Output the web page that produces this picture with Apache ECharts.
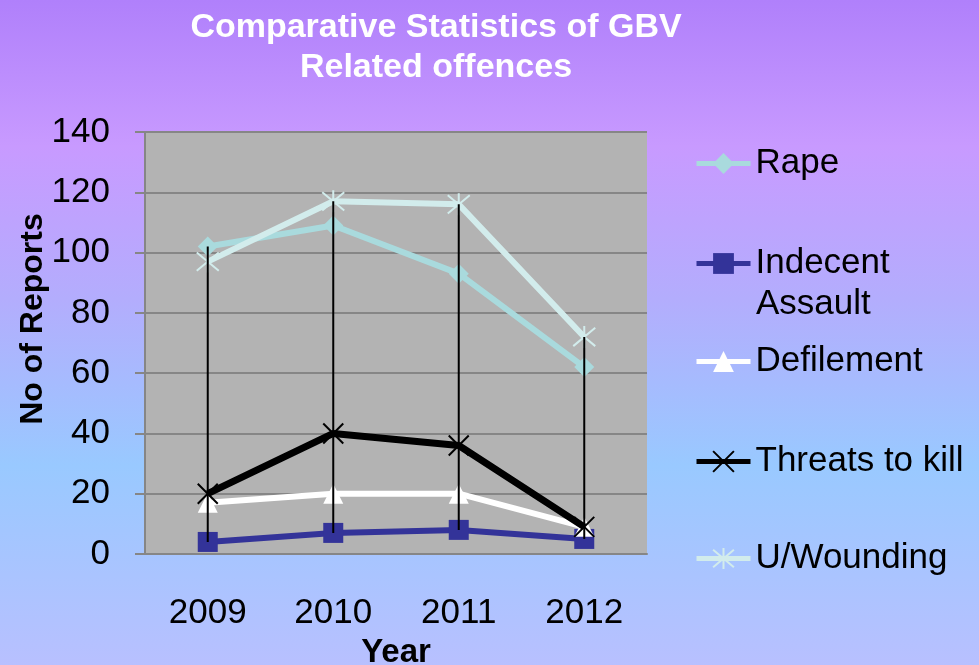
<!DOCTYPE html>
<html>
<head>
<meta charset="utf-8">
<script src="https://cdn.jsdelivr.net/npm/echarts@6/dist/echarts.min.js"></script>
<style>
  html, body { margin: 0; padding: 0; }
  #chart { width: 979px; height: 665px; }
</style>
</head>
<body>
<div id="chart"></div>
<script>
const years = ['2009', '2010', '2011', '2012'];
const rape = [102, 109, 93, 62];
const indecent = [4, 7, 8, 5];
const defilement = [17, 20, 20, 9];
const threats = [20, 40, 36, 9];
const wounding = [97, 117, 116, 72];
const yTicks = { min: 0, max: 140, interval: 20 };

const font = 'Arial, "Liberation Sans", sans-serif';
const allSeries = [rape, indecent, defilement, threats, wounding];

// high-low lines: from highest to lowest value per year
const hiLo = years.map((y, i) => {
  const vals = allSeries.map(s => s[i]);
  return [i, Math.min(...vals), Math.max(...vals)];
});

const xPath = 'path://M0,0L10,10M10,0L0,10';
const starPath = 'path://M0,0L10,10M10,0L0,10M5,-1L5,11';

function oneLegend(name, top) {
  return {
    data: [name],
    orient: 'vertical',
    left: 694,
    top: top,
    itemWidth: 54,
    itemHeight: 26,
    padding: 0,
    selectedMode: false,
    lineStyle: { width: 5 },
    formatter: n => n === 'Indecent Assault' ? 'Indecent' : n,
    textStyle: { fontFamily: font, fontSize: 35, color: '#000' }
  };
}

let myChart = echarts.init(document.getElementById('chart'));
let option = {
  animation: false,
  backgroundColor: {
    type: 'linear', x: 0, y: 0, x2: 0, y2: 1,
    colorStops: [
      { offset: 0, color: '#b080fb' },
      { offset: 0.22, color: '#c89aff' },
      { offset: 0.45, color: '#b3adfd' },
      { offset: 0.7, color: '#99c9ff' },
      { offset: 1, color: '#b8c0ff' }
    ]
  },
  graphic: [
    {
      type: 'text', x: 436, y: 8,
      style: {
        text: 'Comparative Statistics of GBV\nRelated offences',
        align: 'center', verticalAlign: 'top',
        font: 'bold 34px ' + font, fill: '#fff', lineHeight: 40
      }
    },
    {
      type: 'text', left: 756, top: 287,
      style: { text: 'Assault', font: '35px ' + font, fill: '#000' }
    }
  ],
  legend: [
    oneLegend('Rape', 146),
    oneLegend('Indecent Assault', 246),
    oneLegend('Defilement', 344),
    oneLegend('Threats to kill', 444),
    oneLegend('U/Wounding', 541)
  ],
  grid: {
    left: 145, right: 332, top: 132, bottom: 111,
    outerBoundsMode: 'none', containLabel: false,
    show: true, backgroundColor: '#b3b3b3', borderWidth: 0
  },
  xAxis: {
    type: 'category',
    data: years,
    boundaryGap: true,
    name: 'Year',
    nameLocation: 'middle',
    nameGap: 82,
    nameMoveOverlap: false,
    nameTextStyle: { fontFamily: font, fontSize: 33, fontWeight: 'bold', color: '#000' },
    axisLine: { lineStyle: { color: '#868686', width: 2 } },
    axisTick: { show: false },
    axisLabel: { fontFamily: font, fontSize: 35, color: '#000', margin: 42 }
  },
  yAxis: {
    type: 'value',
    min: yTicks.min, max: yTicks.max, interval: yTicks.interval,
    name: 'No of Reports',
    nameLocation: 'middle',
    nameRotate: 90,
    nameGap: 96,
    nameMoveOverlap: false,
    nameTextStyle: { fontFamily: font, fontSize: 32, fontWeight: 'bold', color: '#000', padding: [0, 0, 0, 48] },
    axisLine: { show: true, lineStyle: { color: '#868686', width: 2 } },
    axisTick: { show: true, length: 10, lineStyle: { color: '#868686', width: 2 } },
    splitLine: { lineStyle: { color: '#868686', width: 2 } },
    axisLabel: { fontFamily: font, fontSize: 35, color: '#000', margin: 35 }
  },
  series: [
    {
      name: 'Rape', type: 'line', data: rape,
      symbol: 'diamond', symbolSize: 20,
      lineStyle: { color: '#a9dadd', width: 6 },
      itemStyle: { color: '#a9dadd' }, z: 3
    },
    {
      name: 'Indecent Assault', type: 'line', data: indecent,
      symbol: 'rect', symbolSize: 20,
      lineStyle: { color: '#333399', width: 6 },
      itemStyle: { color: '#333399' }, z: 3
    },
    {
      name: 'Defilement', type: 'line', data: defilement,
      symbol: 'triangle', symbolSize: 20,
      lineStyle: { color: '#ffffff', width: 6 },
      itemStyle: { color: '#ffffff' }, z: 3
    },
    {
      name: 'Threats to kill', type: 'line', data: threats,
      symbol: xPath, symbolSize: 20,
      lineStyle: { color: '#000000', width: 7 },
      itemStyle: { color: 'rgba(0,0,0,0)', borderColor: '#000000', borderWidth: 2 }, z: 4
    },
    {
      name: 'U/Wounding', type: 'line', data: wounding,
      symbol: starPath, symbolSize: 22,
      lineStyle: { color: '#d2ecec', width: 6 },
      itemStyle: { color: 'rgba(0,0,0,0)', borderColor: '#d2ecec', borderWidth: 2 }, z: 3
    },
    {
      type: 'custom',
      data: hiLo,
      z: 5,
      silent: true,
      renderItem: function (params, api) {
        const p1 = api.coord([api.value(0), api.value(2)]);
        const p2 = api.coord([api.value(0), api.value(1)]);
        return {
          type: 'line',
          shape: { x1: p1[0], y1: p1[1], x2: p2[0], y2: p2[1] },
          style: { stroke: '#000', lineWidth: 2 }
        };
      }
    }
  ]
};
myChart.setOption(option, true);
</script>
</body>
</html>
